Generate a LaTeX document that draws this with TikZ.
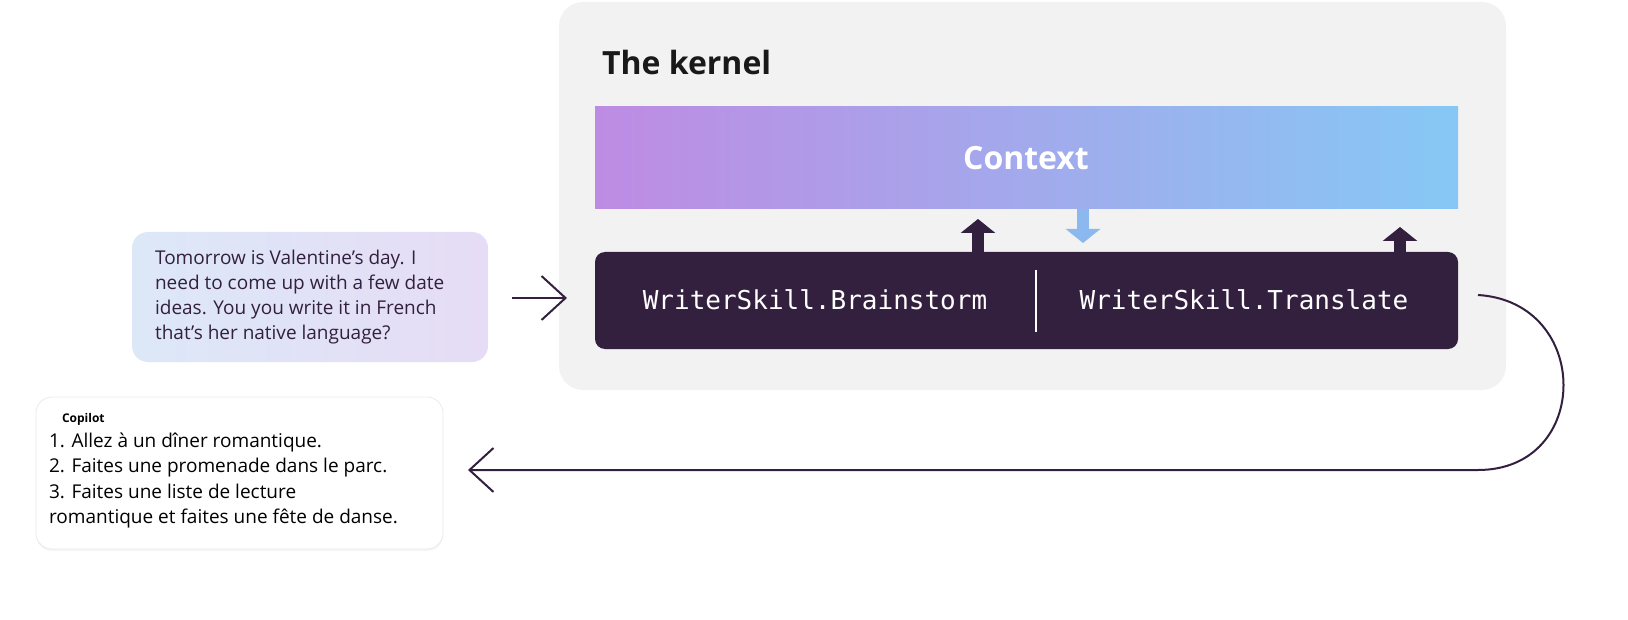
\documentclass[tikz,border=0pt]{standalone}
\usepackage{fontspec}
\setmainfont{Open Sans}
\newfontfamily\monof{DejaVu Sans Mono}
\usetikzlibrary{arrows.meta,shadows}
\definecolor{dark}{HTML}{33203F}
\definecolor{kgray}{HTML}{F2F2F2}
\definecolor{cpurple}{HTML}{BE8BE3}
\definecolor{cblue}{HTML}{86C8F5}
\definecolor{arblue}{HTML}{8CB8F0}
\definecolor{ubl}{HTML}{DCE8F8}
\definecolor{upu}{HTML}{E6DCF5}
\begin{document}
\begin{tikzpicture}[x=0.5pt,y=-0.5pt,
  txt/.style={font=\fontsize{9.5pt}{12.5pt}\selectfont, text=dark, align=left},
  mono/.style={font=\monof\fontsize{13pt}{15pt}\selectfont, text=white},
  barb/.style={-{Straight Barb[length=12pt,width=22pt,line width=1pt]}, dark, line width=1pt}]
\useasboundingbox (0,0) rectangle (1628,620);
% kernel
\node[fill=kgray, rounded corners=12pt, minimum width=473.5pt, minimum height=194pt, inner sep=0] (kernel) at (1032.5,196) {};
\node[anchor=west, font=\bfseries\fontsize{16pt}{18pt}\selectfont, text=black!90] (title) at (595,63) {The kernel};
% context
\shade[left color=cpurple, right color=cblue] (595,107) rectangle (1458,209);
\node[font=\bfseries\fontsize{16pt}{18pt}\selectfont, text=white] (ctx) at (1026,158) {Context};
% skills box
\node[fill=dark, rounded corners=5pt, minimum width=431.5pt, minimum height=48.5pt, inner sep=0] (skills) at (1026.5,300.5) {};
\node[mono] (bs) at (815,300) {WriterSkill.Brainstorm};
\node[mono] (tr) at (1244,300) {WriterSkill.Translate};
\coordinate (d1) at (1036,270); \coordinate (d2) at (1036,332);
\draw[white, line width=1pt] (d1) -- (d2);
% small arrows
\coordinate (a1s) at (978,253); \coordinate (a1e) at (978,219);
\coordinate (a2s) at (1083,209); \coordinate (a2e) at (1083,243);
\coordinate (a3s) at (1400,253); \coordinate (a3e) at (1400,227);
\draw[-{Triangle[length=7pt,width=17pt]}, dark, line width=6pt] (a1s) -- (a1e);
\draw[-{Triangle[length=7pt,width=17pt]}, arblue, line width=6pt] (a2s) -- (a2e);
\draw[-{Triangle[length=7pt,width=17pt]}, dark, line width=6pt] (a3s) -- (a3e);
% user bubble
\shade[left color=ubl, right color=upu, rounded corners=8pt] (132,232) rectangle (488,362);
\node[txt, anchor=west] (user) at (148,297) {Tomorrow is Valentine's day. I\\need to come up with a few date\\ideas. You you write it in French\\that's her native language?};
\coordinate (u1) at (512,298); \coordinate (u2) at (567,298);
\draw[barb] (u1) -- (u2);
% copilot
\node[fill=white, draw=black!8, rounded corners=8pt, minimum width=203.5pt, minimum height=76pt, inner sep=0,
  drop shadow={opacity=0.08, shadow xshift=0pt, shadow yshift=-1pt}] (cop) at (239.5,473) {};
\node[anchor=north west, font=\bfseries\fontsize{6pt}{7pt}\selectfont, text=black] (coplab) at (55,406) {Copilot};
\node[txt, text=black, anchor=north west, font=\fontsize{9.5pt}{12.6pt}\selectfont] (coptxt) at (42,426)
 {1. Allez à un dîner romantique.\\2. Faites une promenade dans le parc.\\3. Faites une liste de lecture\\romantique et faites une fête de danse.};
% return curve
\coordinate (r0) at (1478,295); \coordinate (r1) at (1478,470); \coordinate (r2) at (468,470);
\draw[barb] (r0) .. controls (1592,302) and (1592,470) .. (r1) -- (r2);
\end{tikzpicture}
\end{document}
